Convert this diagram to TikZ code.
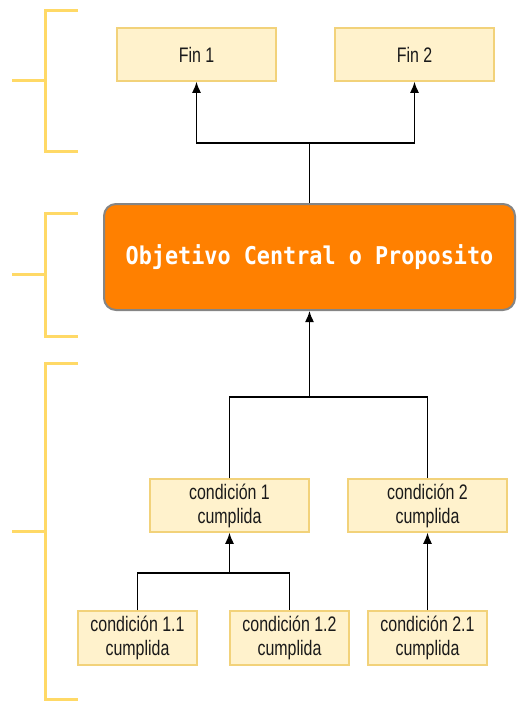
\documentclass[tikz,border=0pt]{standalone}
\usepackage{fontspec}
\usepackage{tikz}
\usetikzlibrary{arrows}
\usetikzlibrary{arrows.meta}
\usepackage{xcolor}
\setmainfont{Liberation Sans}
\newfontfamily\boxfont[FakeStretch=0.76]{Liberation Sans}
\newfontfamily\objfont[FakeStretch=0.89]{DejaVu Sans Mono}
\definecolor{boxfill}{HTML}{FFF2CC}
\definecolor{boxline}{HTML}{F2D27A}
\definecolor{bracketcol}{HTML}{FFD966}
\definecolor{objfill}{HTML}{FF8000}
\definecolor{objline}{HTML}{858585}
\definecolor{textcol}{HTML}{1A1A1A}

\begin{document}
\begin{tikzpicture}[x=1pt,y=-1pt]
\tikzset{>={Latex[width=9pt,length=11pt]}}
\tikzstyle{goal} =[rectangle, fill=boxfill, draw=boxline, line width=1.5pt, minimum width=159pt, minimum height=53pt, inner sep=0pt, align=center, text=textcol, font=\boxfont\fontsize{21}{24}\selectfont]
\tikzstyle{cond} =[goal, minimum width=119pt, minimum height=54pt]
\tikzstyle{central} =[rectangle, rounded corners=12pt, fill=objfill, draw=objline, line width=2pt, minimum width=411pt, minimum height=106pt, text=white, font=\objfont\bfseries\fontsize{24.5}{28}\selectfont]
\tikzstyle{bracket} =[draw=bracketcol, line width=3pt]
\tikzstyle{link} =[line width=1.5pt, black]

\useasboundingbox (0,0) rectangle (520,707);

% fines
\node[goal](fin1) at (196.5,54.5){Fin 1};
\node[goal](fin2) at (414.5,54.5){Fin 2};

% proposito
\node[central](obj) at (309.5,257){Objetivo Central o Proposito};

% condiciones
\node[goal](c1) at (229.5,505.5){condición 1\\cumplida};
\node[goal](c2) at (427.5,505.5){condición 2\\cumplida};
\node[cond](c11) at (137.5,638){condición 1.1\\cumplida};
\node[cond](c12) at (289.5,638){condición 1.2\\cumplida};
\node[cond](c21) at (427.5,638){condición 2.1\\cumplida};

\coordinate (j1) at (309.5,143);
\coordinate (j2) at (309.5,397);
\coordinate (j3) at (229.5,573);

\draw [link] (obj.north) to (j1);
\draw [->,link] (j1) -| (fin1.south);
\draw [->,link] (j1) -| (fin2.south);
\draw [->,link] (j2) to (obj.south);
\draw [link] (c1.north) |- (j2) -| (c2.north);
\draw [->,link] (j3) to (c1.south);
\draw [link] (c11.north) |- (j3) -| (c12.north);
\draw [->,link] (c21.north) to (c2.south);

% niveles
\draw[bracket] (78,10) -- (45,10) -- (45,151) -- (78,151);
\draw[bracket] (12,80) -- (45,80);
\draw[bracket] (78,213) -- (45,213) -- (45,336) -- (78,336);
\draw[bracket] (12,274) -- (45,274);
\draw[bracket] (78,363) -- (45,363) -- (45,699) -- (78,699);
\draw[bracket] (12,531) -- (45,531);
\end{tikzpicture}
\end{document}
